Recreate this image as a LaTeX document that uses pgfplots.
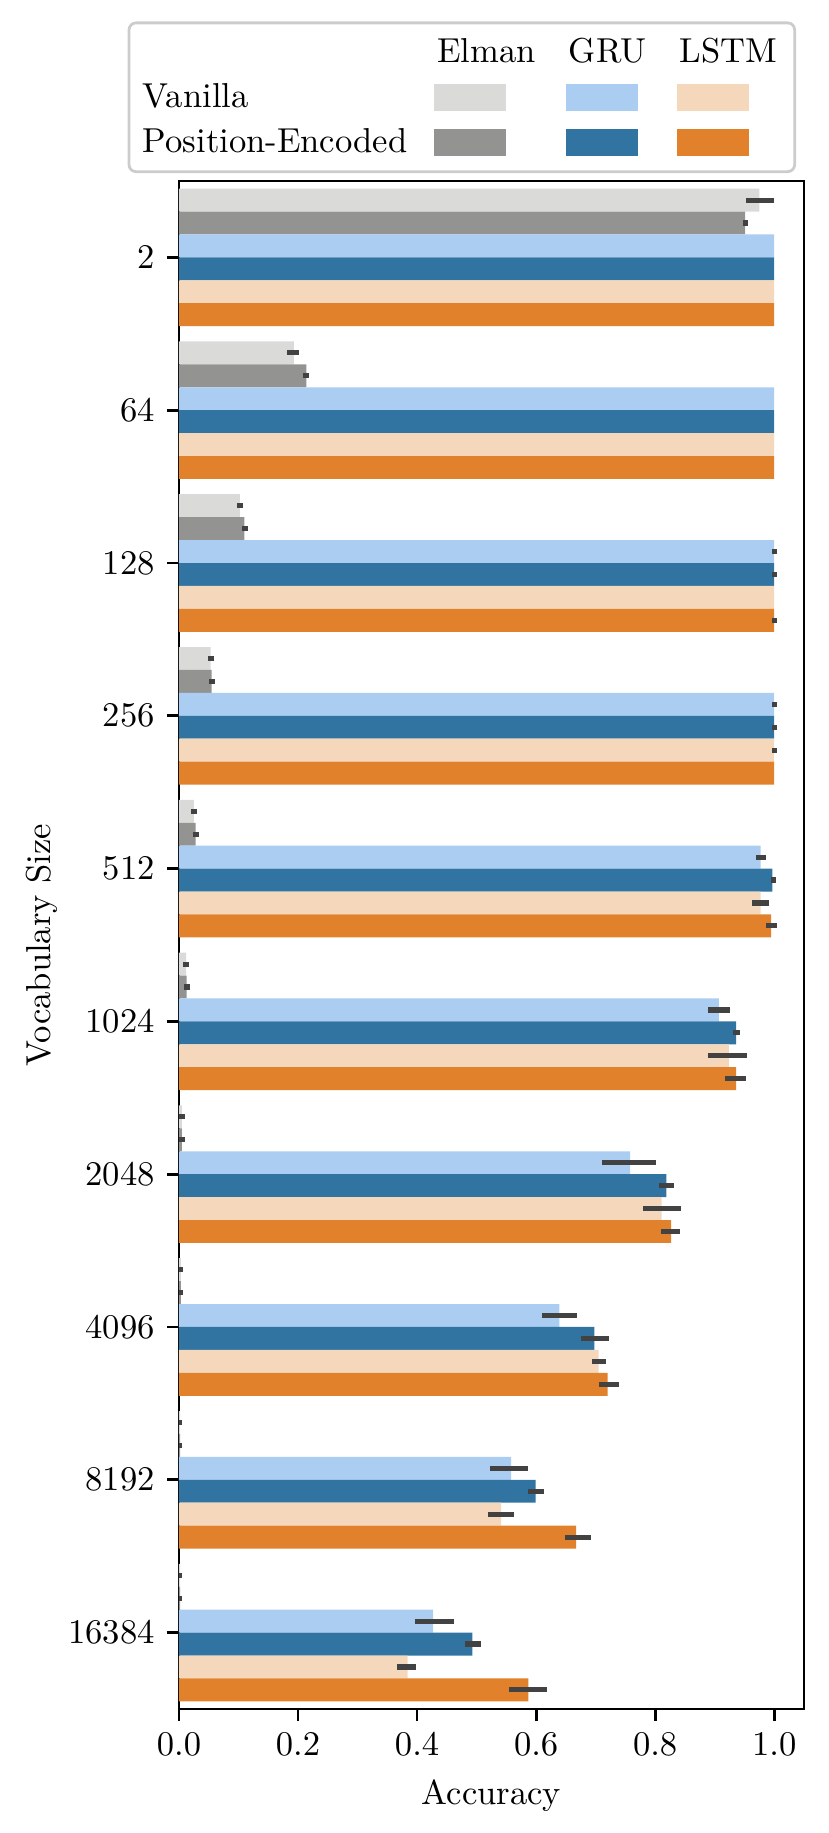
\documentclass[border=0pt]{standalone}
\usepackage{pgfplots}
\usepackage{pgfplotstable}
\pgfplotsset{compat=1.18}

\definecolor{elmanv}{HTML}{DADBD9}
\definecolor{elmanpe}{HTML}{939492}
\definecolor{gruv}{HTML}{ABCDF2}
\definecolor{grupe}{HTML}{3274A1}
\definecolor{lstmv}{HTML}{F5D8BB}
\definecolor{lstmpe}{HTML}{E1812C}
\definecolor{errc}{HTML}{424242}

% g = group index (0 = vocab 2 ... 9 = vocab 16384), v = accuracy, em/ep = error minus/plus
\pgfplotstableread{
g v em ep
0 0.975 0.022 0.025
1 0.193 0.012 0.009
2 0.1025 0.0055 0.0055
3 0.053 0.005 0.005
4 0.025 0.005 0.005
5 0.012 0.005 0.005
6 0.005 0.005 0.005
7 0.003 0.003 0.0035
8 0.002 0.002 0.0025
9 0.002 0.002 0.0025
}\tElmanV

\pgfplotstableread{
g v em ep
0 0.951 0.004 0.005
1 0.214 0.006 0.005
2 0.110 0.004 0.006
3 0.055 0.005 0.005
4 0.028 0.004 0.005
5 0.013 0.004 0.005
6 0.005 0.005 0.005
7 0.003 0.003 0.0035
8 0.002 0.002 0.0025
9 0.002 0.002 0.0025
}\tElmanPE

\pgfplotstableread{
g v em ep
0 1.000 0 0
1 1.000 0 0
2 1.000 0.004 0.004
3 1.000 0.004 0.004
4 0.977 0.008 0.010
5 0.907 0.019 0.019
6 0.758 0.047 0.043
7 0.639 0.029 0.029
8 0.558 0.035 0.029
9 0.427 0.031 0.035
}\tGruV

\pgfplotstableread{
g v em ep
0 1.000 0 0
1 1.000 0 0
2 1.000 0.004 0.004
3 1.000 0.004 0.004
4 0.997 0.003 0.006
5 0.936 0.006 0.006
6 0.819 0.013 0.012
7 0.698 0.022 0.024
8 0.599 0.012 0.014
9 0.493 0.012 0.014
}\tGruPE

\pgfplotstableread{
g v em ep
0 1.000 0 0
1 1.000 0 0
2 1.000 0 0
3 1.000 0.004 0.004
4 0.977 0.014 0.015
5 0.924 0.036 0.030
6 0.811 0.032 0.033
7 0.705 0.011 0.012
8 0.541 0.022 0.022
9 0.384 0.017 0.015
}\tLstmV

\pgfplotstableread{
g v em ep
0 1.000 0 0
1 1.000 0 0
2 1.000 0.004 0.004
3 1.000 0 0
4 0.995 0.009 0.009
5 0.936 0.019 0.017
6 0.827 0.018 0.015
7 0.720 0.015 0.019
8 0.667 0.018 0.025
9 0.587 0.032 0.031
}\tLstmPE

\pgfplotsset{
  hbar/.style={xbar, bar width=0.15, bar shift=0pt, draw=none, fill=#1, forget plot,
    error bars/.cd, x dir=both, x explicit, error mark=none,
    error bar style={line width=1.5pt, color=errc, line cap=butt}},
  patch/.style={legend image code/.code={\fill[#1, sharp corners] (0pt,-3.5pt) rectangle (20pt,3.5pt);}},
  header/.style={legend image code/.code={\node[anchor=west, inner xsep=0pt] at (0pt,0pt) {#1};}},
}

\begin{document}
\begin{tikzpicture}
\useasboundingbox (-51.73pt,-35.84pt) rectangle (187.86pt,493.94pt);
\begin{axis}[
  scale only axis,
  width=180.64pt, height=441.62pt,
  xmin=0, xmax=1.05, ymin=-0.5, ymax=9.5,
  xtick={0,0.2,0.4,0.6,0.8,1},
  x tick label style={/pgf/number format/.cd, fixed, fixed zerofill, precision=1, /tikz/.cd},
  ytick={0,1,2,3,4,5,6,7,8,9},
  yticklabels={16384,8192,4096,2048,1024,512,256,128,64,2},
  tick align=outside, major tick length=3.5pt,
  tick style={black, line width=0.8pt},
  xtick pos=left, ytick pos=left,
  axis line style={line width=0.8pt},
  xlabel={Accuracy}, ylabel={Vocabulary Size},
  ylabel shift=-3.8pt,
  legend columns=4, legend cell align=left,
  legend style={
    at={(axis description cs:1,1)}, anchor=south east, xshift=-2.3pt, yshift=2.3pt,
    draw=black!20, line width=0.8pt, rounded corners=2pt, fill=white,
    inner xsep=4pt, inner ysep=2pt,
    nodes={inner xsep=0pt, inner ysep=1.5pt, text height=8pt, text depth=2pt},
    /tikz/every even column/.append style={column sep=7.8pt},
    /tikz/column 2/.append style={column sep=10pt},
  },
]
\addplot[hbar=elmanv] table[x=v, y expr=9-\thisrow{g}+0.375, x error plus=ep, x error minus=em] {\tElmanV};
\addplot[hbar=elmanpe] table[x=v, y expr=9-\thisrow{g}+0.225, x error plus=ep, x error minus=em] {\tElmanPE};
\addplot[hbar=gruv] table[x=v, y expr=9-\thisrow{g}+0.075, x error plus=ep, x error minus=em] {\tGruV};
\addplot[hbar=grupe] table[x=v, y expr=9-\thisrow{g}-0.075, x error plus=ep, x error minus=em] {\tGruPE};
\addplot[hbar=lstmv] table[x=v, y expr=9-\thisrow{g}-0.225, x error plus=ep, x error minus=em] {\tLstmV};
\addplot[hbar=lstmpe] table[x=v, y expr=9-\thisrow{g}-0.375, x error plus=ep, x error minus=em] {\tLstmPE};

\addlegendimage{empty legend}\addlegendentry{\mbox{}}
\addlegendimage{header=Elman}\addlegendentry{\mbox{}}
\addlegendimage{header=GRU}\addlegendentry{\mbox{}}
\addlegendimage{header=LSTM}\addlegendentry{\mbox{}}
\addlegendimage{empty legend}\addlegendentry{Vanilla}
\addlegendimage{patch=elmanv}\addlegendentry{\mbox{}}
\addlegendimage{patch=gruv}\addlegendentry{\mbox{}}
\addlegendimage{patch=lstmv}\addlegendentry{\mbox{}}
\addlegendimage{empty legend}\addlegendentry{Position-Encoded}
\addlegendimage{patch=elmanpe}\addlegendentry{\mbox{}}
\addlegendimage{patch=grupe}\addlegendentry{\mbox{}}
\addlegendimage{patch=lstmpe}\addlegendentry{\mbox{}}
\end{axis}
\end{tikzpicture}
\end{document}
